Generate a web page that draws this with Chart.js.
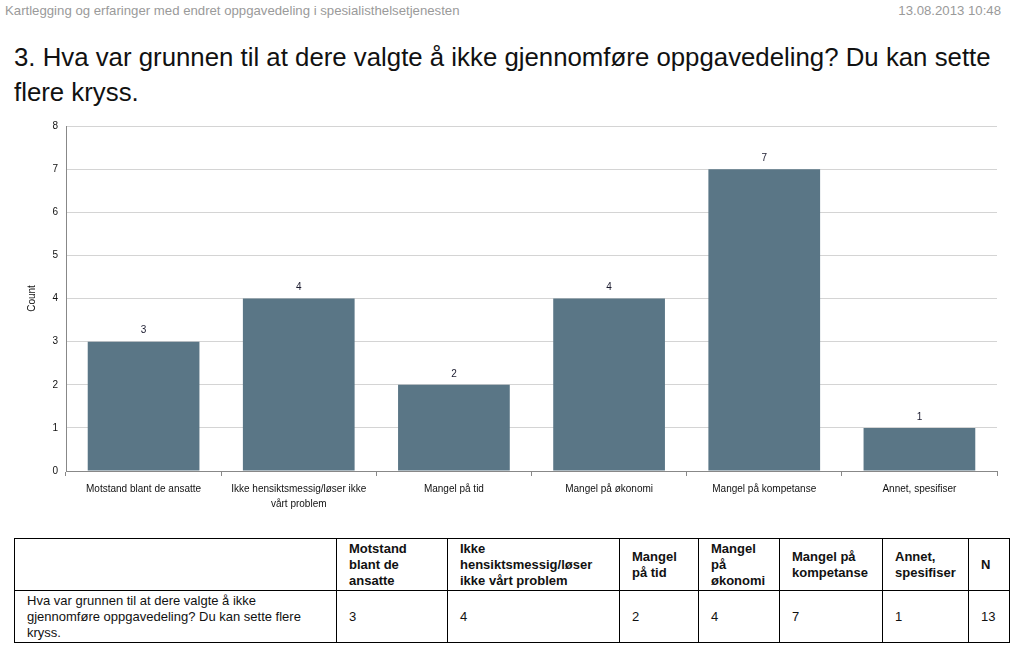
<!DOCTYPE html>
<html>
<head>
<meta charset="utf-8">
<script src="https://cdn.jsdelivr.net/npm/chart.js@4"></script>
<style>
  body { margin: 0; background: #fff; font-family: "Liberation Sans", sans-serif; width: 1024px; height: 659px; position: relative; overflow: hidden; }
  #hdr { position: absolute; left: 5px; top: 3px; font-size: 13.2px; color: #9a9a9a; }
  #stamp { position: absolute; right: 23px; top: 3px; font-size: 13.2px; color: #9a9a9a; }
  #title { position: absolute; left: 14px; top: 40px; width: 1005px; font-size: 25.8px; line-height: 35px; color: #111; }
  #wrap { position: absolute; left: 0; top: 112px; width: 1000px; height: 403px; }
  table { position: absolute; left: 14px; top: 538px; border-collapse: collapse; font-family: "Liberation Sans", sans-serif; font-size: 13px; color: #111; }
  td, th { border: 1px solid #000; text-align: left; vertical-align: middle; padding: 0 10px 0 12px; line-height: 16px; }
  th { font-weight: bold; height: 51px; }
  td { height: 51px; }
</style>
</head>
<body>
<div id="hdr">Kartlegging og erfaringer med endret oppgavedeling i spesialisthelsetjenesten</div>
<div id="stamp">13.08.2013 10:48</div>
<div id="title">3. Hva var grunnen til at dere valgte å ikke gjennomføre oppgavedeling? Du kan sette flere kryss.</div>
<div id="wrap"><canvas id="chart"></canvas></div>
<table id="tbl"></table>
<script>
// --- Data ---
const categories = [
  "Motstand blant de ansatte",
  ["Ikke hensiktsmessig/løser ikke", "vårt problem"],
  "Mangel på tid",
  "Mangel på økonomi",
  "Mangel på kompetanse",
  "Annet, spesifiser"
];
const counts = [3, 4, 2, 4, 7, 1];
const yTicks = [0, 1, 2, 3, 4, 5, 6, 7, 8];

const tableHeads = ["Motstand blant de ansatte", "Ikke hensiktsmessig/løser ikke vårt problem", "Mangel på tid", "Mangel på økonomi", "Mangel på kompetanse", "Annet, spesifiser", "N"];
const tableRowLabel = "Hva var grunnen til at dere valgte å ikke gjennomføre oppgavedeling? Du kan sette flere kryss.";
const tableN = 13;
const colWidths = [322, 111, 172, 79, 81, 103, 86, 41];

// --- Table ---
function buildTable() {
  const tbl = document.getElementById("tbl");
  let head = `<tr><th style="width:${colWidths[0] - 23}px"></th>`;
  tableHeads.forEach((h, i) => { head += `<th style="width:${colWidths[i + 1] - 23}px">${h}</th>`; });
  head += "</tr>";
  let row = `<tr><td>${tableRowLabel}</td>`;
  counts.forEach(v => { row += `<td>${v}</td>`; });
  row += `<td>${tableN}</td></tr>`;
  tbl.innerHTML = head + row;
}
buildTable();

// --- Value labels above bars ---
const valueLabels = {
  id: "valueLabels",
  afterDatasetsDraw(chart) {
    const ctx = chart.ctx;
    const meta = chart.getDatasetMeta(0);
    ctx.save();
    ctx.font = "10px 'Liberation Sans', sans-serif";
    ctx.fillStyle = "#1a1a2e";
    ctx.textAlign = "center";
    ctx.textBaseline = "bottom";
    meta.data.forEach((bar, i) => {
      ctx.fillText(String(counts[i]), bar.x, bar.y - 6);
    });
    ctx.restore();
  }
};

new Chart(document.getElementById("chart"), {
  type: "bar",
  data: {
    labels: categories,
    datasets: [{
      data: counts,
      backgroundColor: "#5a7686",
      barPercentage: 0.72,
      categoryPercentage: 1
    }]
  },
  options: {
    responsive: true,
    maintainAspectRatio: false,
    animation: false,
    layout: { padding: { left: 22, right: 3, top: 4, bottom: 0 } },
    plugins: { legend: { display: false }, tooltip: { enabled: false } },
    scales: {
      x: {
        grid: { display: true, drawOnChartArea: false, drawTicks: true, tickLength: 5, color: "#888", offset: true },
        border: { color: "#888" },
        ticks: { color: "#111", font: { size: 10, family: "'Liberation Sans', sans-serif", lineHeight: 1.45 }, padding: 6, maxRotation: 0, autoSkip: false },
        afterFit(scale) { scale.height = 44; }
      },
      y: {
        min: 0,
        max: 8,
        afterBuildTicks(scale) { scale.ticks = yTicks.map(v => ({ value: v })); },
        grid: { color: "#d4d4d4", drawTicks: false },
        border: { color: "#888" },
        ticks: { color: "#111", font: { size: 10, family: "'Liberation Sans', sans-serif" }, padding: 8 },
        title: { display: true, text: "Count", color: "#111", font: { size: 10, family: "'Liberation Sans', sans-serif" }, padding: { top: 4, bottom: 0 } },
        afterFit(scale) { scale.width = 44; }
      }
    }
  },
  plugins: [valueLabels]
});
</script>
</body>
</html>
